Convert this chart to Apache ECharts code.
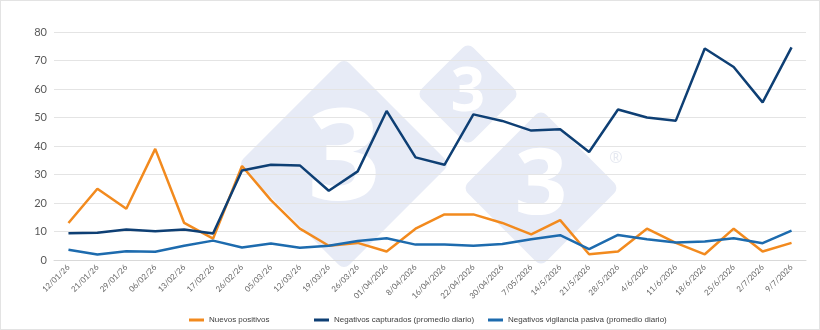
<!doctype html>
<html lang="es">
  <head>
    <meta charset="utf-8">
    <title>Nuevos positivos y negativos</title>
    <script src="https://cdn.jsdelivr.net/npm/echarts@6/dist/echarts.min.js"></script>
    <style>
      html, body { margin: 0; padding: 0; background: #fff; }
      #chart { width: 820px; height: 330px; box-sizing: border-box; border: 1px solid #e3e3e3; }
    </style>
  </head>
  <body>
    <div id="chart"></div>
    <script>
      // fechas del eje x
      var fechas = ['12/01/26', '21/01/26', '29/01/26', '06/02/26', '13/02/26', '17/02/26', '26/02/26',
        '05/03/26', '12/03/26', '19/03/26', '26/03/26', '01/04/2026', '8/04/2026', '16/04/2026',
        '22/04/2026', '30/04/2026', '7/05/2026', '14/5/2026', '21/5/2026', '28/5/2026', '4/6/2026',
        '11/6/2026', '18/6/2026', '25/6/2026', '2/7/2026', '9/7/2026'];

      var nuevosPositivos = [13, 25, 18, 39, 13, 7.5, 33, 21, 11, 5, 6, 3, 11, 16, 16, 13, 9, 14, 2, 3, 11, 6, 2, 11, 3, 6];
      var negCapturados = [9.4, 9.6, 10.7, 10.1, 10.7, 9.3, 31.4, 33.4, 33.2, 24.3, 31.1, 52.3, 36, 33.4, 51.1,
        48.8, 45.4, 45.9, 37.9, 52.8, 50, 48.9, 74.2, 67.7, 55.3, 74.6];
      var negVigilancia = [3.6, 1.9, 3.1, 2.9, 5, 6.8, 4.4, 5.8, 4.3, 5, 6.7, 7.6, 5.4, 5.4, 5, 5.6,
        7.3, 8.7, 3.8, 8.8, 7.3, 6.1, 6.5, 7.6, 5.9, 10.3];

      var nombres = ['Nuevos positivos', 'Negativos capturados (promedio diario)', 'Negativos vigilancia pasiva (promedio diario)'];
      var colores = ['#F28A1E', '#0E3F74', '#1D6BAE'];

      // marca de agua (rombos con "3"), detras de las lineas de la rejilla
      function rombo(cx, cy, lado, tam) {
        return [{
          type: 'rect', x: cx, y: cy, rotation: Math.PI / 4, z: -1,
          shape: { x: -lado / 2, y: -lado / 2, width: lado, height: lado, r: 10 },
          style: { fill: '#E7EBF6', stroke: '#fff', lineWidth: 5 }
        }, {
          type: 'text', x: cx, y: cy, z: -1,
          style: { text: '3', fill: '#fff', font: 'bold ' + tam + 'px "Open Sans"', align: 'center', verticalAlign: 'middle' }
        }];
      }
      var marca = [].concat(rombo(343, 163, 155, 128), rombo(467, 93, 78, 60), rombo(540, 187, 116, 92));
      marca.push({ type: 'text', x: 615, y: 157, z: -1, style: { text: '®', fill: '#e6e9f1', font: '16px "Open Sans"', align: 'center', verticalAlign: 'middle' } });

      var leyendaX = [183, 308, 482];
      var leyendas = nombres.map(function (n, i) {
        return {
          data: [n], left: leyendaX[i], top: 310, icon: 'rect', itemWidth: 15, itemHeight: 3,
          textStyle: { color: '#404040', fontSize: 8, fontFamily: 'Liberation Sans' }
        };
      });

      var series = [nuevosPositivos, negCapturados, negVigilancia].map(function (d, i) {
        return {
          name: nombres[i], type: 'line', data: d, showSymbol: false, symbol: 'none', z: 3,
          lineStyle: { color: colores[i], width: 2.5 }, itemStyle: { color: colores[i] }
        };
      });

      var chart = echarts.init(document.getElementById('chart'));
      chart.setOption({
        animation: false,
        graphic: marca,
        legend: leyendas,
        grid: { left: 53, right: 13, top: 31, bottom: 69 },
        xAxis: {
          type: 'category', data: fechas, boundaryGap: true,
          axisLine: { lineStyle: { color: '#d9d9d9' } },
          axisTick: { show: false },
          axisLabel: { rotate: 45, fontSize: 8, color: '#666', fontFamily: 'Lato', interval: 0, margin: 6 }
        },
        yAxis: {
          type: 'value', min: 0, max: 80, interval: 10,
          axisLine: { show: false }, axisTick: { show: false },
          axisLabel: { fontSize: 11, color: '#595959', fontFamily: 'Lato', margin: 7 },
          splitLine: { lineStyle: { color: '#e4e4e4' } }
        },
        series: series
      });
    </script>
  </body>
</html>
